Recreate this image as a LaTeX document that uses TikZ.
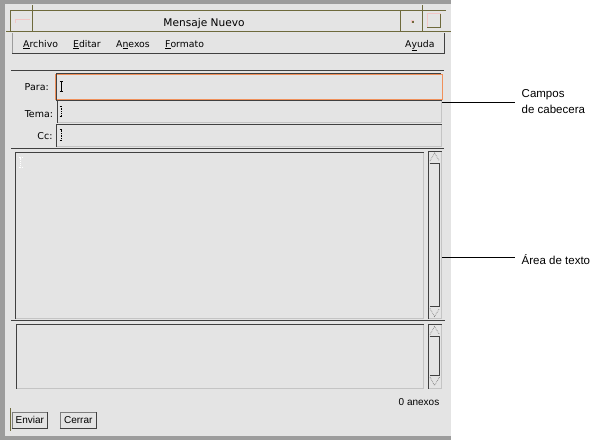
\documentclass[tikz,border=0pt]{standalone}
\usepackage{fontspec}
\setmainfont{Liberation Sans}
\newfontfamily\uifont{DejaVu Sans}
\usepackage{tikz}
\usetikzlibrary{positioning}

\definecolor{marco}{HTML}{9C9C9C}
\definecolor{fondo}{HTML}{E4E4E4}
\definecolor{oliva}{HTML}{6E6A3C}
\definecolor{oscuro}{HTML}{404040}
\definecolor{claro}{HTML}{C4C4C4}
\definecolor{naranja}{HTML}{F0905A}
\definecolor{rosa}{HTML}{F2C6C6}

\tikzset{
  campo/.style={draw=claro, fill=fondo, line width=0.8pt, inner sep=0pt, anchor=north west},
  hundido/.style={draw=oscuro, line width=1pt},
  sep/.style={draw=oscuro, line width=1pt},
  menuitem/.style={font=\uifont\fontsize{9.3}{11}\selectfont, inner sep=0pt, anchor=base west},
  etiq/.style={font=\uifont\fontsize{9.5}{11}\selectfont, inner sep=0pt, anchor=base east},
  nota/.style={font=\fontsize{11.5}{16}\selectfont, align=left, inner sep=0pt},
  boton/.style={draw=marco!80!black, fill=fondo, font=\fontsize{10}{12}\selectfont, inner sep=0pt, minimum height=16.6pt},
  guia/.style={draw=black, line width=0.8pt},
  flecha/.style={draw=gray, densely dotted, line width=0.7pt},
}

\begin{document}
\begin{tikzpicture}[x=1pt,y=-1pt]
          \useasboundingbox (0,0) rectangle (593,440);
          \fill[white] (0,0) rectangle (593,440);
          \fill[marco] (0,0) rectangle (451,440);
          \fill[fondo] (5,4) rectangle (451,436);
          % barra de titulo
          \draw[oliva] (6,31.5) -- (451,31.5)
                (10.5,10) -- (446,10)
                (10.5,10) -- (10.5,31.5)
                (32.5,5) -- (32.5,31.5)
                (400.5,10) -- (400.5,31.5)
                (422.5,5) -- (422.5,31.5);
          \draw[rosa, line width=0.8pt] (15,23) |- (29.5,19);
          \fill[rosa] (411,20) rectangle (414,23);
          \fill[oliva] (412,21) rectangle (414,23);
          \draw[rosa] (427,13.5) rectangle (440.5,27.5);
          \draw[oliva] (427,27.5) -| (440.5,13.5);
          \node[font=\uifont\fontsize{10.6}{12}\selectfont, inner sep=0pt, anchor=base] (titulo) at (204,26.7) {Mensaje Nuevo};
          % menu
          \node[inner sep=0pt, minimum width=432pt, minimum height=20.5pt, anchor=north west] (barra) at (12,32.5) {};
          \draw[marco, line width=1pt] (barra.south west) -- (barra.north west);
          \draw[oscuro, line width=1.5pt] (barra.south west) -| (barra.north east);
          \node[menuitem] (archivo) at (23,47) {\underline{A}rchivo};
          \node[menuitem] (editar) at (73,47) {\underline{E}ditar};
          \node[menuitem] (anexos) at (116,47) {A\underline{n}exos};
          \node[menuitem] (formato) at (165,47) {\underline{F}ormato};
          \node[menuitem] (ayuda) at (405,47) {A\underline{y}uda};
          \draw[sep] (11,70.5) -- (444,70.5);
          % campos de cabecera
          \node[campo, draw=naranja, minimum width=386.7pt, minimum height=24.7pt] (para) at (55,74.3) {};
          \node[campo, minimum width=384pt, minimum height=21.7pt] (tema) at (57,100) {};
          \node[campo, minimum width=385pt, minimum height=22pt] (cc) at (56,124) {};
          \draw[hundido] ([shift={(1.2pt,-1.2pt)}]para.south west) |- ([shift={(-1.2pt,1.2pt)}]para.north east);
          \node[etiq] (lpara) at (49,90.5) {Para:};
          \node[etiq] (ltema) at (53.3,117) {Tema:};
          \node[etiq] (lcc) at (52.7,139) {Cc:};
          \draw[line width=1pt] (59.5,81.7) -- (62.5,81.7) (61,81.7) -- (61,91) (59.5,91) -- (62.5,91);
          \draw[densely dotted, line width=0.7pt] (59.5,106) -- (62.5,106) (61,106) -- (61,116) (59.5,116) -- (62.5,116)
                (59.5,129.5) -- (62.5,129.5) (61,129.5) -- (61,140) (59.5,140) -- (62.5,140);
          \draw[sep] (11,148.5) -- (444,148.5);
          % area de texto y adjuntos
          \node[campo, minimum width=407.4pt, minimum height=166.3pt] (texto) at (15.3,152) {};
          \node[campo, minimum width=406.7pt, minimum height=63.7pt] (adjuntos) at (16,324) {};
          \node[campo, minimum width=12.4pt, minimum height=167.3pt] (barra1) at (428.3,151) {};
          \node[campo, minimum width=12.4pt, minimum height=63.7pt] (barra2) at (428.3,324) {};
          \foreach \n in {tema,cc,texto,adjuntos,barra1,barra2}
            \draw[hundido] (\n.south west) |- (\n.north east);
          \draw[white, densely dotted, line width=0.8pt] (18.5,157.5) -- (22.5,157.5) (20.5,157.5) -- (20.5,167.5) (18.5,167.5) -- (22.5,167.5);
          \draw[oscuro, line width=1pt] (429.5,163.3) -| (439.3,306.7) -- (429.5,306.7);
          \draw[oscuro, line width=1pt] (429.5,336.5) -| (439.3,375) -- (429.5,375);
          \draw[flecha] (430,161) -- (434.5,153) -- (439.5,161);
          \draw[flecha] (430,308.5) -- (434.5,316.5) -- (439.5,308.5);
          \draw[flecha] (430,334.5) -- (434.5,326.5) -- (439.5,334.5);
          \draw[flecha] (430,377) -- (434.5,385.5) -- (439.5,377);
          \draw[sep] (11,320.5) -- (445,320.5);
          \node[inner sep=0pt, anchor=base east, font=\fontsize{10}{12}\selectfont] (num) at (439.5,405.5) {0 anexos};
          % botones
          \node[boton, minimum width=35.7pt] (enviar) at (29.8,420) {Enviar};
          \node[boton, minimum width=36.7pt] (cerrar) at (78.3,420) {Cerrar};
          \draw[oscuro, line width=1pt] (enviar.south west) -| (enviar.north east)
                (cerrar.south west) -| (cerrar.north east);
          \draw[oliva, line width=1pt] (10.3,408) -- (10.3,430.7);
          % notas
          \node[nota, anchor=west] (campos) at (521.5,101.2) {Campos\\de cabecera};
          \node[nota, anchor=base west] (area) at (521.5,264.5) {Área de texto};
          \coordinate (cab) at (442.3,102.3);
          \coordinate (txt) at (442.3,257.7);
          \draw[guia, shorten >=7pt] (cab) -- (cab -| campos.west);
          \draw[guia, shorten >=7pt] (txt) -- (txt -| area.west);
        \end{tikzpicture}
\end{document}
